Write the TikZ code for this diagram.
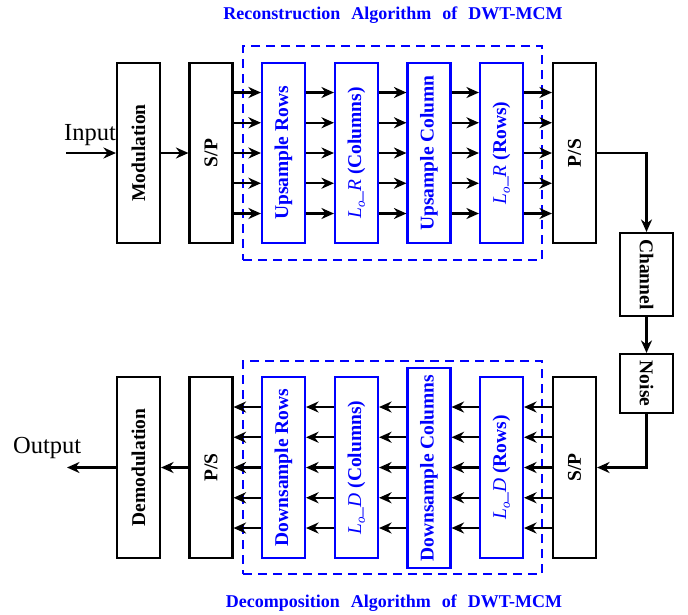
\documentclass[tikz,border=0pt]{standalone}
\usepackage{fontspec}
\setmainfont{Liberation Serif}
\usetikzlibrary{arrows.meta}
\newcommand{\Lsub}[1]{\textmd{\textit{L\raisebox{-0.4ex}{\fontsize{13}{13}\selectfont o}}\_\textit{#1}}}
\begin{document}
\begin{tikzpicture}[x=1pt,y=-1pt,
  blk/.style={draw=black,line width=2.1pt,minimum width=43pt,minimum height=180pt,inner sep=0pt,font=\fontsize{19.5}{22}\selectfont\bfseries},
  bblk/.style={blk,draw=blue,text=blue},
  dbox/.style={draw=blue,line width=2.1pt,dash pattern=on 9pt off 6pt,minimum width=299pt,inner sep=0pt},
  arr/.style={line width=2.3pt,-{Stealth[length=12.5pt,width=11pt,inset=4pt]}},
  ttl/.style={text=blue,font=\fontsize{18}{20}\selectfont\bfseries,inner sep=0pt},
  io/.style={font=\fontsize{24.5}{26}\selectfont,inner sep=0pt}
]
\useasboundingbox (0,0) rectangle (688,614);

% frames
\node[dbox,minimum height=214pt] (ftop) at (392.5,153) {};
\node[dbox,minimum height=213pt] (fbot) at (392.5,467.5) {};

% top row
\node[blk] (mod) at (138.5,153) {\rotatebox{90}{Modulation}};
\node[blk] (sp) at (211,153) {\rotatebox{90}{S/P}};
\node[bblk] (ur) at (283.5,153) {\rotatebox{90}{Upsample Rows}};
\node[bblk] (lrc) at (356.5,153) {\rotatebox{90}{\Lsub{R} (Columns)}};
\node[bblk] (uc) at (429,153) {\rotatebox{90}{Upsample Column}};
\node[bblk] (lrr) at (501.5,153) {\rotatebox{90}{\Lsub{R} (Rows)}};
\node[blk] (ps) at (574.5,153) {\rotatebox{90}{P/S}};

% channel / noise
\node[blk,minimum width=53pt,minimum height=83pt] (ch) at (646.5,274.5) {\rotatebox{-90}{Channel}};
\node[blk,minimum width=53pt,minimum height=59pt] (no) at (646.5,383.5) {\rotatebox{-90}{Noise}};

% bottom row
\node[blk,minimum height=181pt] (dem) at (138.5,467.5) {\rotatebox{90}{Demodulation}};
\node[blk,minimum height=181pt] (psb) at (211,467.5) {\rotatebox{90}{P/S}};
\node[bblk,minimum height=181pt] (dr) at (283.5,467.5) {\rotatebox{90}{Downsample Rows}};
\node[bblk,minimum height=181pt] (ldc) at (356.5,467.5) {\rotatebox{90}{\Lsub{D} (Columns)}};
\node[bblk,minimum height=200pt] (dc) at (429,468) {\rotatebox{90}{Downsample Columns}};
\node[bblk,minimum height=181pt] (ldr) at (501.5,467.5) {\rotatebox{90}{\Lsub{D} (Rows)}};
\node[blk,minimum height=181pt] (spb) at (574.5,467.5) {\rotatebox{90}{S/P}};

% titles
\node[ttl] (t1) at (393,15) {Reconstruction\hspace{11pt}Algorithm\hspace{11pt}of\hspace{11pt}DWT-MCM};
\node[ttl] (t2) at (394,603) {Decomposition\hspace{11pt}Algorithm\hspace{11pt}of\hspace{11pt}DWT-MCM};

% input / output
\coordinate (in) at (66,153);
\coordinate (out) at (67,467.5);
\node[io,anchor=base west] (inl) at (64,140) {Input};
\node[io,anchor=base west] (outl) at (13,453) {Output};
\draw[arr] (in) -- (mod.west);
\draw[arr] (mod.east) -- (sp.west);
\draw[arr] (dem.west) -- (out);
\draw[arr] (psb.west) -- (dem.east);

% channel path
\draw[arr] (ps.east) -| (ch.north);
\draw[arr] (ch.south) -- (no.north);
\draw[arr] (no.south) |- (spb.east);

% parallel arrows
\foreach \k in {-2,...,2}{
  \pgfmathsetmacro\yy{153+30.25*\k}
  \foreach \a/\b in {sp/ur,ur/lrc,lrc/uc,uc/lrr,lrr/ps}
    \draw[arr] (\a.east |- 0,\yy) -- (\b.west |- 0,\yy);
  \pgfmathsetmacro\yb{467.5+30.25*\k}
  \foreach \a/\b in {spb/ldr,ldr/dc,dc/ldc,ldc/dr,dr/psb}
    \draw[arr] (\a.west |- 0,\yb) -- (\b.east |- 0,\yb);
}
\end{tikzpicture}
\end{document}
